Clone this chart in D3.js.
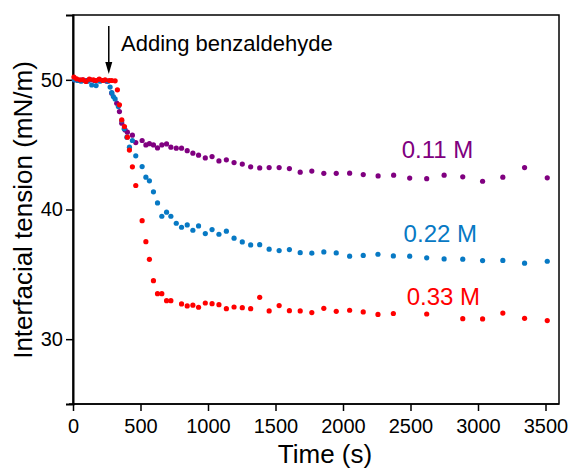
<!DOCTYPE html>
<html><head><meta charset="utf-8">
<script src="https://cdn.jsdelivr.net/npm/d3@7"></script>
<style>body{margin:0;background:#fff}svg{display:block}text{font-family:"Liberation Sans",Arial,sans-serif}</style>
</head><body>
<svg id="c" width="571" height="470"></svg>
<script>
// Time (s) and interfacial tension (mN/m) for each concentration
const t011 = [10,40,70,100,130,160,190,220,250,287,324,344,361,386,403,440,465,512,540,566,596,626,658,693,725,765,804,846,888,930,980,1030,1081,1136,1193,1254,1316,1383,1453,1527,1603,1683,1769,1858,1950,2049,2150,2260,2375,2494,2620,2749,2887,3034,3184,3345,3513];
const y011 = [50,49.95,50,49.95,50,49.95,50,49.95,49.9,48.97,48.2,47.55,46.66,46.14,45.96,45.73,45.16,45.32,44.98,45.08,44.98,44.75,44.98,45.06,44.81,44.73,44.73,44.54,44.34,44.19,43.98,44.08,43.75,43.83,43.62,43.5,43.29,43.21,43.23,43.23,43.16,42.88,42.96,42.79,42.79,42.8,42.69,42.59,42.65,42.42,42.38,42.65,42.52,42.18,42.49,43.23,42.44];
const t022 = [10,35,60,85,110,139,171,200,230,260,275,287,299,312,336,361,379,399,418,440,465,512,540,566,596,626,658,693,725,765,804,846,888,930,980,1030,1081,1136,1193,1254,1316,1383,1453,1527,1603,1683,1769,1858,1950,2049,2150,2259,2373,2494,2620,2749,2887,3034,3184,3345,3513];
const y022 = [50,49.95,49.9,49.95,49.9,49.6,49.56,49.9,49.95,49.9,49.44,49.02,48.71,48.53,47.94,46.86,46.22,45.58,44.81,45.32,44.14,43.31,42.49,42.21,41.36,40.51,39.48,39.79,39.48,38.94,38.63,38.81,38.4,38.73,38.14,38.45,38.09,38.33,37.79,37.5,37.27,37.29,36.94,36.83,36.91,36.67,36.63,36.73,36.65,36.4,36.46,36.55,36.42,36.4,36.27,36.19,36.17,36.06,36.07,35.86,36.01];
const t033 = [7,27,52,76,96,121,151,171,195,220,238,270,287,312,329,344,361,381,403,418,440,465,512,540,566,596,626,658,693,725,804,846,888,930,980,1030,1081,1136,1193,1254,1316,1383,1453,1527,1603,1683,1769,1858,1950,2049,2150,2259,2373,2620,2887,3034,3184,3345,3513];
const y033 = [50.21,50.08,50,50,49.87,50.05,50,49.95,50.05,49.95,50,49.95,49.95,49.92,49.23,48.07,46.91,46.4,45.58,44.58,43.29,41.85,39.14,37.52,36.16,34.51,33.51,33.51,32.97,32.97,32.72,32.56,32.62,32.46,32.79,32.74,32.66,32.35,32.48,32.43,32.35,33.23,32.18,32.59,32.2,32.18,32.05,32.38,32.15,32.23,32.1,31.91,31.98,31.94,31.58,31.56,32.01,31.61,31.43];
const seriesNames = ["0.11 M","0.22 M","0.33 M"];
const seriesColors = ["#800080","#0779c4","#ff0000"];
const labelTimes = [2435,2449,2472];
const labelValues = [43.98,37.5,32.64];
const xTicks = [0,500,1000,1500,2000,2500,3000,3500];
const yTicks = [30,40,50];
const annotation = "Adding benzaldehyde";
const arrowTime = 265;

const svg = d3.select("#c");
const m = {l:73, r:12, t:15, b:66};
const W = 571, H = 470;
const x = d3.scaleLinear().domain([0,3600]).range([m.l, W-m.r]);
const y = d3.scaleLinear().domain([25,55]).range([H-m.b, m.t]);

// frame
svg.append("rect").attr("x",m.l).attr("y",m.t).attr("width",W-m.r-m.l).attr("height",H-m.b-m.t)
  .attr("fill","none").attr("stroke","#000").attr("stroke-width",1.5);

// x axis
const gx = svg.append("g").attr("transform",`translate(0,${H-m.b})`);
gx.call(d3.axisBottom(x).tickValues(d3.range(250,3600,500)).tickSize(4).tickFormat(""));
gx.call(d3.axisBottom(x).tickValues(xTicks).tickSize(7).tickFormat(d3.format("d")));
gx.selectAll(".domain").attr("stroke-width",1.5).attr("d",`M${m.l-4},0H${W-m.r}`);
gx.selectAll("line").attr("stroke-width",1.5);
gx.selectAll("text").attr("font-size",20).attr("fill","#000").attr("y",29).attr("dy",0);

// y axis
const gy = svg.append("g").attr("transform",`translate(${m.l},0)`);
gy.call(d3.axisLeft(y).tickValues([25,35,45]).tickSize(4).tickFormat(""));
gy.call(d3.axisLeft(y).tickValues(yTicks).tickSize(7).tickPadding(3).tickFormat(d3.format("d")));
gy.selectAll(".domain").attr("stroke-width",2);
gy.selectAll("line").attr("stroke-width",1.5);
gy.selectAll("text").attr("font-size",20).attr("fill","#000");

// axis titles
svg.append("text").attr("x",325).attr("y",463).attr("text-anchor","middle")
  .attr("font-size",26).text("Time (s)");
svg.append("text").attr("transform",`translate(32,210) rotate(-90)`).attr("text-anchor","middle")
  .attr("font-size",26).text("Interfacial tension (mN/m)");

// data
const data = [[t011,y011],[t022,y022],[t033,y033]];
data.forEach((s,i)=>{
  svg.append("g").selectAll("circle").data(s[0].map((t,j)=>[t,s[1][j]])).join("circle")
    .attr("cx",d=>x(d[0])).attr("cy",d=>y(d[1])).attr("r",2.6).attr("fill",seriesColors[i]);
});

// series labels
seriesNames.forEach((n,i)=>{
  svg.append("text").attr("x",x(labelTimes[i])).attr("y",y(labelValues[i]))
    .attr("font-size",24).attr("fill",seriesColors[i]).text(n);
});

// annotation arrow
const ax = x(arrowTime);
svg.append("line").attr("x1",ax).attr("x2",ax).attr("y1",26).attr("y2",66).attr("stroke","#000").attr("stroke-width",1.5);
svg.append("path").attr("d",`M${ax-3.5},62L${ax},74L${ax+3.5},62Z`).attr("fill","#000");
svg.append("text").attr("x",121).attr("y",51).attr("font-size",22).text(annotation);
</script>
</body></html>
